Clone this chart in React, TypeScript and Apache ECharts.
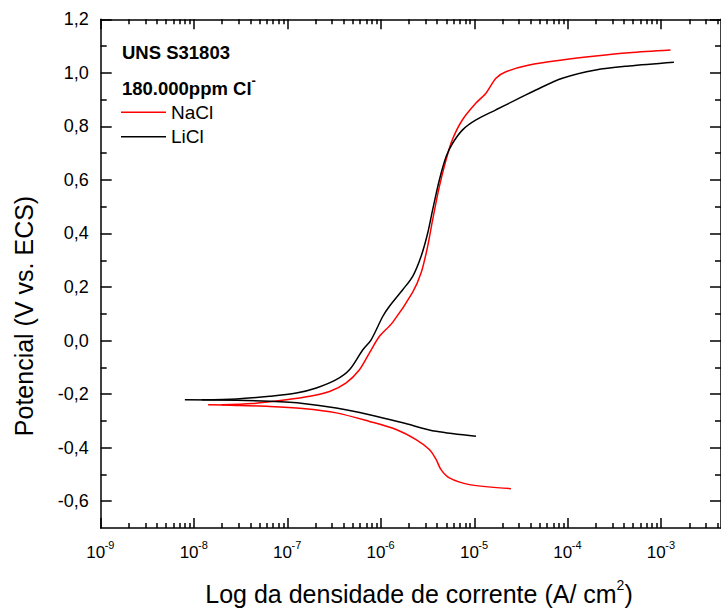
import React, { useEffect, useRef } from "react";
import * as echarts from "echarts";

// Tick positions (x axis in log10 of current density)
const xTickExponents = [-9, -8, -7, -6, -5, -4, -3];
const yTickValues = [-0.6, -0.4, -0.2, 0, 0.2, 0.4, 0.6, 0.8, 1.0, 1.2];
const yMinorValues = [-0.5, -0.3, -0.1, 0.1, 0.3, 0.5, 0.7, 0.9, 1.1];

// NaCl (red) - cathodic branch (from most negative potential up to Ecorr)
const naclCathodicLogI = [-4.609, -5.054, -5.268, -5.357, -5.41, -5.482, -5.624, -5.838, -6.123, -6.479, -6.839, -7.191, -7.547, -7.85];
const naclCathodicE = [-0.553, -0.538, -0.513, -0.482, -0.444, -0.407, -0.37, -0.332, -0.302, -0.27, -0.254, -0.246, -0.242, -0.24];
// NaCl (red) - anodic branch
const naclAnodicLogI = [-7.707, -7.373, -7.013, -6.764, -6.55, -6.372, -6.23, -6.123, -6.016, -5.877, -5.663, -5.57, -5.5, -5.447, -5.375, -5.303, -5.236, -5.129, -4.983, -4.876, -4.769, -4.662, -4.413, -4.061, -3.701, -3.345, -2.9];
const naclAnodicE = [-0.24, -0.235, -0.221, -0.208, -0.19, -0.158, -0.109, -0.046, 0.016, 0.067, 0.179, 0.253, 0.352, 0.451, 0.575, 0.675, 0.75, 0.824, 0.887, 0.924, 0.98, 1.004, 1.029, 1.048, 1.063, 1.075, 1.085];

// LiCl (black) - cathodic branch
const liclCathodicLogI = [-4.983, -5.41, -5.767, -6.123, -6.479, -6.835, -7.191, -7.547, -8.099];
const liclCathodicE = [-0.357, -0.339, -0.307, -0.277, -0.252, -0.235, -0.227, -0.223, -0.221];
// LiCl (black) - anodic branch
const liclAnodicLogI = [-7.918, -7.547, -7.191, -6.906, -6.692, -6.479, -6.337, -6.194, -6.105, -5.981, -5.909, -5.767, -5.66, -5.571, -5.5, -5.447, -5.375, -5.303, -5.233, -5.126, -4.983, -4.769, -4.556, -4.342, -4.058, -3.701, -3.345, -2.864];
const liclAnodicE = [-0.221, -0.218, -0.208, -0.196, -0.177, -0.146, -0.109, -0.034, 0.003, 0.09, 0.128, 0.19, 0.24, 0.314, 0.401, 0.488, 0.6, 0.687, 0.737, 0.787, 0.824, 0.862, 0.899, 0.936, 0.98, 1.011, 1.026, 1.04];

const FONT = "Liberation Sans, Arial, Helvetica, sans-serif";

const zip = (xs: number[], ys: number[]) => xs.map((x, i) => [x, ys[i]]);

const xMinorValues: number[] = [];
xTickExponents.concat([-2]).forEach((d) => {
  for (let k = 2; k <= 9; k++) {
    const v = d + Math.log10(k);
    if (v <= -2.36) xMinorValues.push(v);
  }
});

export default function App() {
  const ref = useRef<HTMLDivElement>(null);
  useEffect(() => {
    if (!ref.current) return;
    const chart = echarts.init(ref.current, undefined, { renderer: "svg" });
    const lineCol = "#000";
    const xBase: any = {
      type: "value",
      min: -9,
      max: -2.36,
      splitLine: { show: false },
      axisLabel: { show: false },
      axisTick: { show: false },
      axisLine: { show: false, onZero: false },
    };
    const yBase: any = {
      type: "value",
      min: -0.7,
      max: 1.2,
      splitLine: { show: false },
      axisLabel: { show: false },
      axisTick: { show: false },
      axisLine: { show: false, onZero: false },
    };
    const axisLine = { show: true, onZero: false, lineStyle: { color: lineCol, width: 1.5 } };
    const tick = (vals: number[], len: number) => ({
      show: true,
      inside: true,
      length: len,
      customValues: vals,
      lineStyle: { color: lineCol, width: 1.5 },
    });
    const seriesCommon: any = {
      type: "line",
      showSymbol: false,
      symbol: "none",
      smooth: 0.3,
      xAxisIndex: 0,
      yAxisIndex: 0,
    };
    chart.setOption({
      animation: false,
      backgroundColor: "#fff",
      textStyle: { fontFamily: FONT },
      grid: { left: 100.7, top: 19.3, right: -1, bottom: 80, containLabel: false },
      legend: {
        data: ["NaCl", "LiCl"],
        orient: "vertical",
        left: 121,
        top: 100,
        padding: 0,
        icon: "rect",
        itemWidth: 45,
        itemHeight: 1.6,
        itemGap: 0,
        selectedMode: false,
        textStyle: { fontSize: 19, lineHeight: 24.5, color: "#000", fontFamily: FONT },
      },
      xAxis: [
        {
          ...xBase,
          position: "bottom",
          axisLine,
          axisTick: tick(xTickExponents, 10),
          // base "10" of each decade label (composite label centred on the tick)
          axisLabel: {
            show: true,
            customValues: xTickExponents,
            margin: 16,
            fontSize: 17,
            lineHeight: 17,
            padding: [0, 10, 0, 0],
            color: "#000",
            fontFamily: FONT,
            formatter: () => "10",
          },
        },
        { ...xBase, position: "bottom", axisTick: tick(xMinorValues, 5) },
        { ...xBase, position: "top", axisLine, axisTick: tick(xTickExponents, 10) },
        { ...xBase, position: "top", axisTick: tick(xMinorValues, 5) },
        {
          // superscript exponent of each decade label
          ...xBase,
          position: "bottom",
          axisLabel: {
            show: true,
            customValues: xTickExponents,
            margin: 11,
            fontSize: 11,
            lineHeight: 11,
            align: "left",
            padding: [0, 0, 0, 4],
            color: "#000",
            fontFamily: FONT,
            formatter: (v: number) => String(Math.round(v)),
          },
        },
      ],
      yAxis: [
        {
          ...yBase,
          position: "left",
          axisLine,
          axisTick: tick(yTickValues, 11),
          axisLabel: {
            show: true,
            customValues: yTickValues,
            margin: 12,
            fontSize: 18,
            color: "#000",
            fontFamily: FONT,
            formatter: (v: number) => {
              const s = v.toFixed(1).replace(".", ",");
              return s === "-0,0" ? "0,0" : s;
            },
          },
        },
        { ...yBase, position: "left", axisTick: tick(yMinorValues, 6) },
        { ...yBase, position: "right", axisLine, axisTick: tick(yTickValues, 11) },
        { ...yBase, position: "right", axisTick: tick(yMinorValues, 6) },
      ],
      series: [
        { ...seriesCommon, name: "NaCl", data: zip(naclCathodicLogI, naclCathodicE), lineStyle: { color: "#ff0000", width: 1.5 }, itemStyle: { color: "#ff0000" } },
        { ...seriesCommon, name: "NaCl", data: zip(naclAnodicLogI, naclAnodicE), lineStyle: { color: "#ff0000", width: 1.5 }, itemStyle: { color: "#ff0000" } },
        { ...seriesCommon, name: "LiCl", data: zip(liclCathodicLogI, liclCathodicE), lineStyle: { color: "#000000", width: 1.5 }, itemStyle: { color: "#000000" } },
        { ...seriesCommon, name: "LiCl", data: zip(liclAnodicLogI, liclAnodicE), lineStyle: { color: "#000000", width: 1.5 }, itemStyle: { color: "#000000" } },
      ],
      graphic: [
        {
          type: "text",
          x: 24,
          y: 316,
          rotation: Math.PI / 2,
          style: {
            text: "Potencial (V vs. ECS)",
            fontSize: 25,
            fontFamily: FONT,
            fill: "#000",
            textAlign: "center",
            textVerticalAlign: "middle",
          },
        },
        {
          type: "text",
          x: 419,
          y: 592,
          style: {
            text: "{t|Log da densidade de corrente (A/ cm}{s|2}{t|)}",
            rich: {
              t: { fontSize: 25, fontFamily: FONT, fill: "#000", verticalAlign: "bottom", lineHeight: 29 },
              s: { fontSize: 14, fontFamily: FONT, fill: "#000", verticalAlign: "top", lineHeight: 16 },
            },
            textAlign: "center",
            textVerticalAlign: "middle",
          },
        },
        {
          type: "text",
          x: 122,
          y: 52,
          style: {
            text: "UNS S31803",
            fontSize: 18.5,
            fontWeight: "bold",
            fontFamily: FONT,
            fill: "#000",
            textVerticalAlign: "middle",
          },
        },
        {
          type: "text",
          x: 122,
          y: 86,
          style: {
            text: "{b|180.000ppm Cl}{s|-}",
            rich: {
              b: { fontSize: 18.5, fontWeight: "bold", fontFamily: FONT, fill: "#000", verticalAlign: "bottom", lineHeight: 24 },
              s: { fontSize: 13, fontWeight: "bold", fontFamily: FONT, fill: "#000", verticalAlign: "top", lineHeight: 14 },
            },
            textVerticalAlign: "middle",
          },
        },
      ],
    });
    return () => chart.dispose();
  }, []);
  return (
    <div
      ref={ref}
      style={{ position: "fixed", left: 0, top: 0, width: 721, height: 608, background: "#fff" }}
    />
  );
}
